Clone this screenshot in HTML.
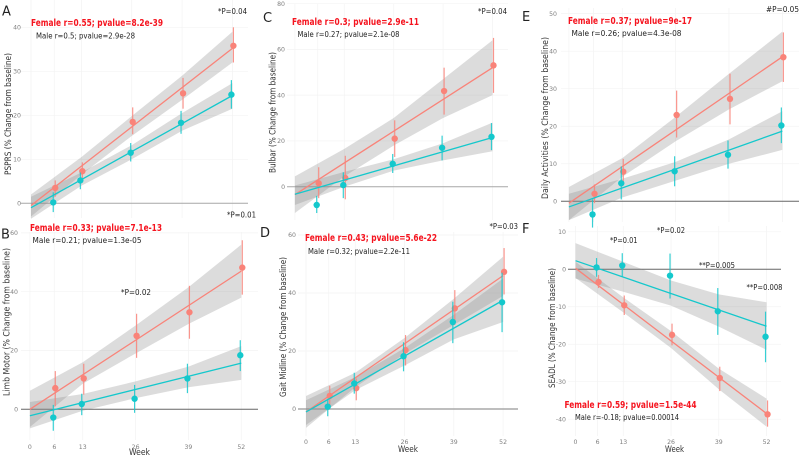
<!DOCTYPE html>
<html lang="en">
<head>
<meta charset="utf-8">
<title>Change from baseline by week and sex</title>
<style>
html,body{margin:0;padding:0;background:#fff;width:800px;height:458px;overflow:hidden}
svg{display:block;filter:blur(.3px)}
text{font-family:"DejaVu Sans","Liberation Sans",sans-serif}
.tick{font-size:6.2px;fill:#808080}
.ytitle{font-size:8.5px;fill:#333}
.week{font-size:8.5px;fill:#333}
.female{font-size:9.5px;font-weight:bold;fill:#f5141f}
.male{font-size:8px;fill:#222}
.pv{font-size:8px;fill:#222}
.letter{font-size:13px;fill:#222}
</style>
</head>
<body>
<svg id="chart" xmlns="http://www.w3.org/2000/svg" width="800" height="458" viewBox="0 0 800 458">
  <rect width="800" height="458" fill="#fff"/>
  <g id="marks"></g>

  <text class="letter" x="2" y="15.5">A</text>
  <text class="letter" x="1" y="238.5">B</text>
  <text class="letter" x="263" y="22">C</text>
  <text class="letter" x="260" y="237">D</text>
  <text class="letter" x="522" y="21">E</text>
  <text class="letter" x="522" y="233">F</text>

  <text class="female" x="31" y="26" textLength="132" lengthAdjust="spacingAndGlyphs">Female r=0.55; pvalue=8.2e-39</text>
  <text class="male" x="36" y="38.5" textLength="99" lengthAdjust="spacingAndGlyphs">Male r=0.5; pvalue=2.9e-28</text>
  <text class="female" x="30" y="231" textLength="132" lengthAdjust="spacingAndGlyphs">Female r=0.33; pvalue=7.1e-13</text>
  <text class="male" x="32.5" y="243" textLength="109" lengthAdjust="spacingAndGlyphs">Male r=0.21; pvalue=1.3e-05</text>
  <text class="female" x="292" y="25" textLength="127" lengthAdjust="spacingAndGlyphs">Female r=0.3; pvalue=2.9e-11</text>
  <text class="male" x="297.5" y="37" textLength="102" lengthAdjust="spacingAndGlyphs">Male r=0.27; pvalue=2.1e-08</text>
  <text class="female" x="305" y="241" textLength="132" lengthAdjust="spacingAndGlyphs">Female r=0.43; pvalue=5.6e-22</text>
  <text class="male" x="308" y="254" textLength="102" lengthAdjust="spacingAndGlyphs">Male r=0.32; pvalue=2.2e-11</text>
  <text class="female" x="568" y="24" textLength="124" lengthAdjust="spacingAndGlyphs">Female r=0.37; pvalue=9e-17</text>
  <text class="male" x="571.5" y="36" textLength="110" lengthAdjust="spacingAndGlyphs">Male r=0.26; pvalue=4.3e-08</text>
  <text class="female" x="564.5" y="408" textLength="132" lengthAdjust="spacingAndGlyphs">Female r=0.59; pvalue=1.5e-44</text>
  <text class="male" x="575" y="420" textLength="104" lengthAdjust="spacingAndGlyphs">Male r=-0.18; pvalue=0.00014</text>

  <text class="pv" x="218" y="14" textLength="29" lengthAdjust="spacingAndGlyphs">*P=0.04</text>
  <text class="pv" x="227" y="217.5" textLength="29" lengthAdjust="spacingAndGlyphs">*P=0.01</text>
  <text class="pv" x="121" y="295" textLength="30" lengthAdjust="spacingAndGlyphs">*P=0.02</text>
  <text class="pv" x="478" y="14" textLength="29" lengthAdjust="spacingAndGlyphs">*P=0.04</text>
  <text class="pv" x="489.5" y="229" textLength="28.5" lengthAdjust="spacingAndGlyphs">*P=0.03</text>
  <text class="pv" x="766" y="12" textLength="33" lengthAdjust="spacingAndGlyphs">#P=0.05</text>
  <text class="pv" x="610" y="243" textLength="27.5" lengthAdjust="spacingAndGlyphs">*P=0.01</text>
  <text class="pv" x="657" y="233" textLength="28" lengthAdjust="spacingAndGlyphs">*P=0.02</text>
  <text class="pv" x="699" y="268" textLength="36" lengthAdjust="spacingAndGlyphs">**P=0.005</text>
  <text class="pv" x="746.5" y="290" textLength="36" lengthAdjust="spacingAndGlyphs">**P=0.008</text>

  <text class="ytitle" transform="translate(11,175) rotate(-90)" textLength="122" lengthAdjust="spacingAndGlyphs">PSPRS (% Change from baseline)</text>
  <text class="ytitle" transform="translate(9.5,396) rotate(-90)" textLength="148" lengthAdjust="spacingAndGlyphs">Limb Motor (% Change from baseline)</text>
  <text class="ytitle" transform="translate(275.5,173) rotate(-90)" textLength="121" lengthAdjust="spacingAndGlyphs">Bulbar (% Change from baseline)</text>
  <text class="ytitle" transform="translate(286,397) rotate(-90)" textLength="140" lengthAdjust="spacingAndGlyphs">Gait Midline (% Change from baseline)</text>
  <text class="ytitle" transform="translate(548,199) rotate(-90)" textLength="162" lengthAdjust="spacingAndGlyphs">Daily Activities (% Change from baseline)</text>
  <text class="ytitle" transform="translate(555,388) rotate(-90)" textLength="120" lengthAdjust="spacingAndGlyphs">SEADL (% Change from baseline)</text>

  <text class="week" x="129" y="455" textLength="21" lengthAdjust="spacingAndGlyphs">Week</text>
  <text class="week" x="398" y="452" textLength="20" lengthAdjust="spacingAndGlyphs">Week</text>
  <text class="week" x="665" y="452" textLength="19" lengthAdjust="spacingAndGlyphs">Week</text>
</svg>
<script>
const pointWeeks = [6, 13, 26, 39, 52];
const ribbonWeeks = [0, 13, 26, 39, 52];
const lineWeeks = [0, 52];
const xTickLabels = [0, 6, 13, 26, 39, 52];

const aYTicks = [0, 10, 20, 30, 40];
const aFemaleMeans = [3.5, 7.3, 18.5, 25, 35.8];
const aFemaleLow = [1.5, 5.2, 15.7, 21.5, 32];
const aFemaleHigh = [5.2, 9.3, 21.8, 28.5, 40];
const aFemaleLine = [-0.5, 35.2];
const aFemaleRibbonHigh = [2, 10.5, 19.8, 29, 39];
const aFemaleRibbonLow = [-3, 6.5, 15.3, 23.5, 32];
const aMaleMeans = [0.2, 5.2, 11.5, 18.3, 24.7];
const aMaleLow = [-2, 3.2, 9.5, 15.8, 21.5];
const aMaleHigh = [2.5, 7, 13.7, 21, 28];
const aMaleLine = [-1, 24.5];
const aMaleRibbonHigh = [1.5, 7, 13.2, 20.5, 27.3];
const aMaleRibbonLow = [-3.5, 4, 10, 16.5, 21.5];

const bYTicks = [0, 20, 40, 60];
const bFemaleMeans = [7.2, 10.5, 25, 33, 48.2];
const bFemaleLow = [1, 5, 17.5, 24, 39];
const bFemaleHigh = [13, 15.5, 32.5, 42, 57.5];
const bFemaleLine = [0, 47];
const bFemaleRibbonHigh = [6.3, 16, 28.5, 41.5, 56];
const bFemaleRibbonLow = [-6, 8.7, 19, 29, 38];
const bMaleMeans = [-2.8, 1.8, 3.6, 10.5, 18.4];
const bMaleLow = [-7.3, -2, -1.2, 5.5, 13];
const bMaleHigh = [1.5, 5.3, 8.3, 15.5, 23.5];
const bMaleLine = [-2.2, 15.7];
const bMaleRibbonHigh = [2.5, 5.2, 9.5, 14.5, 21.5];
const bMaleRibbonLow = [-6.5, -0.5, 3.8, 7.5, 10];

const cYTicks = [0, 20, 40, 60, 80];
const cFemaleMeans = [1.5, 3.8, 21, 41.8, 53];
const cFemaleLow = [-5, -5.5, 13, 31.5, 41];
const cFemaleHigh = [8.5, 13.5, 29, 52, 65];
const cFemaleLine = [-3.5, 52];
const cFemaleRibbonHigh = [4.5, 16.5, 30, 47, 64];
const cFemaleRibbonLow = [-11.5, 4.5, 18, 30, 40];
const cMaleMeans = [-8, 0.7, 10, 17, 21.8];
const cMaleLow = [-11.5, -5, 6, 11.5, 16];
const cMaleHigh = [-4, 6.3, 14.3, 22.3, 27.8];
const cMaleLine = [-3.3, 21.5];
const cMaleRibbonHigh = [0.5, 6.5, 12, 19, 28];
const cMaleRibbonLow = [-8, 0, 7, 11.5, 15.5];

const dYTicks = [0, 20, 40, 60];
const dFemaleMeans = [4.5, 7.2, 20.3, 34.7, 47.3];
const dFemaleLow = [1, 3, 15, 29, 39.5];
const dFemaleHigh = [8, 10.5, 25.5, 41, 55.5];
const dFemaleLine = [-1, 46];
const dFemaleRibbonHigh = [4.5, 12.5, 24.5, 38, 52.5];
const dFemaleRibbonLow = [-6.5, 7.5, 19, 29, 39];
const dMaleMeans = [0.8, 8.8, 18.2, 30, 36.8];
const dMaleLow = [-2.5, 5.3, 13, 22.7, 26.5];
const dMaleHigh = [3.5, 12.5, 23, 37, 47];
const dMaleLine = [-1, 37.5];
const dMaleRibbonHigh = [3, 11, 21, 32.5, 45];
const dMaleRibbonLow = [-5.5, 6.5, 15, 24, 30];

const eYTicks = [0, 10, 20, 30, 40, 50];
const eFemaleMeans = [2, 7.9, 23, 27.3, 38.4];
const eFemaleLow = [-0.5, 4.5, 17, 20.5, 31.8];
const eFemaleHigh = [4.5, 11.3, 29.5, 34, 45];
const eFemaleLine = [-0.5, 38.5];
const eFemaleRibbonHigh = [3.8, 11.5, 22.5, 34, 45.2];
const eFemaleRibbonLow = [-5, 6.5, 16, 24.5, 32];
const eMaleMeans = [-3.5, 4.8, 8, 12.4, 20.2];
const eMaleLow = [-7, 0.5, 4, 8.7, 15.5];
const eMaleHigh = [0.5, 9.3, 12, 16.2, 25];
const eMaleLine = [-1.5, 18.7];
const eMaleRibbonHigh = [2, 6, 10.5, 16.5, 24];
const eMaleRibbonLow = [-5, 1, 5.5, 10, 13.7];

const fYTicks = [10, 0, -10, -20, -30, -40];
const fFemaleMeans = [-3.4, -9.6, -17.5, -29, -38.7];
const fFemaleLow = [-5, -12.2, -20.3, -32.5, -42];
const fFemaleHigh = [-1.5, -7, -14.5, -26, -35];
const fFemaleLine = [0.3, -38.5];
const fFemaleRibbonHigh = [2, -7.5, -16.5, -26.5, -34.5];
const fFemaleRibbonLow = [-2.3, -11.5, -21, -32, -42];
const fMaleMeans = [0.5, 1, -1.7, -11.2, -18];
const fMaleLow = [-2, -2, -7.8, -17.5, -24.8];
const fMaleHigh = [3, 4.3, 4.2, -5, -11.3];
const fMaleLine = [2.3, -15.2];
const fMaleRibbonHigh = [7, 2, -3, -6.7, -8.8];
const fMaleRibbonLow = [-2.5, -6, -9.7, -15.3, -21.5];

const FEMALE_COLOR = '#f98379';
const MALE_COLOR = '#14c8cc';
const NS = 'http://www.w3.org/2000/svg';
const root = document.getElementById('marks');

function make(tag, attrs, parent) {
  const el = document.createElementNS(NS, tag);
  for (const k in attrs) el.setAttribute(k, attrs[k]);
  parent.appendChild(el);
  return el;
}

const panels = [
  {id:'a', x0:31, xs:3.873, y0:203.3, ys:4.4, zl:20, zr:248, zc:'#a8a8a8', zw:1, tr:21, tickY:null, top:0, bot:218, yTicks:aYTicks,
   f:{m:aFemaleMeans,lo:aFemaleLow,hi:aFemaleHigh,l:aFemaleLine,rh:aFemaleRibbonHigh,rl:aFemaleRibbonLow},
   g:{m:aMaleMeans,lo:aMaleLow,hi:aMaleHigh,l:aMaleLine,rh:aMaleRibbonHigh,rl:aMaleRibbonLow}},
  {id:'b', x0:29.9, xs:4.065, y0:409.3, ys:2.94, zl:21, zr:258, zc:'#666', zw:1, tr:18, tickY:449, top:232, bot:440, yTicks:bYTicks,
   f:{m:bFemaleMeans,lo:bFemaleLow,hi:bFemaleHigh,l:bFemaleLine,rh:bFemaleRibbonHigh,rl:bFemaleRibbonLow},
   g:{m:bMaleMeans,lo:bMaleLow,hi:bMaleHigh,l:bMaleLine,rh:bMaleRibbonHigh,rl:bMaleRibbonLow}},
  {id:'c', x0:294.9, xs:3.8, y0:186.7, ys:2.289, zl:287, zr:508, zc:'#a8a8a8', zw:1, tr:285, tickY:null, top:4, bot:220, yTicks:cYTicks,
   f:{m:cFemaleMeans,lo:cFemaleLow,hi:cFemaleHigh,l:cFemaleLine,rh:cFemaleRibbonHigh,rl:cFemaleRibbonLow},
   g:{m:cMaleMeans,lo:cMaleLow,hi:cMaleHigh,l:cMaleLine,rh:cMaleRibbonHigh,rl:cMaleRibbonLow}},
  {id:'d', x0:306, xs:3.79, y0:409, ys:2.9, zl:298, zr:518, zc:'#a8a8a8', zw:1.5, tr:296, tickY:444, top:232, bot:436, yTicks:dYTicks,
   f:{m:dFemaleMeans,lo:dFemaleLow,hi:dFemaleHigh,l:dFemaleLine,rh:dFemaleRibbonHigh,rl:dFemaleRibbonLow},
   g:{m:dMaleMeans,lo:dMaleLow,hi:dMaleHigh,l:dMaleLine,rh:dMaleRibbonHigh,rl:dMaleRibbonLow}},
  {id:'e', x0:568.9, xs:4.105, y0:201.3, ys:3.753, zl:561, zr:799, zc:'#666', zw:1, tr:557, tickY:null, top:8, bot:222, yTicks:eYTicks,
   f:{m:eFemaleMeans,lo:eFemaleLow,hi:eFemaleHigh,l:eFemaleLine,rh:eFemaleRibbonHigh,rl:eFemaleRibbonLow},
   g:{m:eMaleMeans,lo:eMaleLow,hi:eMaleHigh,l:eMaleLine,rh:eMaleRibbonHigh,rl:eMaleRibbonLow}},
  {id:'f', x0:575.5, xs:3.674, y0:269.3, ys:3.747, zl:568, zr:781, zc:'#666', zw:1, tr:566, tickY:444, top:226, bot:436, yTicks:fYTicks,
   f:{m:fFemaleMeans,lo:fFemaleLow,hi:fFemaleHigh,l:fFemaleLine,rh:fFemaleRibbonHigh,rl:fFemaleRibbonLow},
   g:{m:fMaleMeans,lo:fMaleLow,hi:fMaleHigh,l:fMaleLine,rh:fMaleRibbonHigh,rl:fMaleRibbonLow}}
];

function drawSeriesRibbon(s, g, X, Y) {
  const up = ribbonWeeks.map((w, i) => X(w) + ',' + Y(s.rh[i]));
  const dn = ribbonWeeks.map((w, i) => X(w) + ',' + Y(s.rl[i])).reverse();
  const el = make('polygon', {points: up.concat(dn).join(' '), fill: '#8c8c8c', 'fill-opacity': 0.3}, g);
  
  
}

function drawSeriesMarks(s, color, dodge, g, X, Y) {
  const line = make('line', {x1: X(lineWeeks[0]), y1: Y(s.l[0]), x2: X(lineWeeks[1]), y2: Y(s.l[1]), stroke: color, 'stroke-width': 1.3}, g);
  
  
  pointWeeks.forEach((w, i) => {
    const bar = make('line', {x1: X(w) + dodge, x2: X(w) + dodge, y1: Y(s.lo[i]), y2: Y(s.hi[i]), stroke: color, 'stroke-width': 1.2, 'stroke-opacity': 0.85}, g);
    
    
    const dot = make('circle', {cx: X(w) + dodge, cy: Y(s.m[i]), r: 3.2, fill: color}, g);
    
    
  });
}

panels.forEach(p => {
  const X = w => p.x0 + p.xs * w;
  const Y = v => p.y0 - p.ys * v;
  const g = make('g', {}, root);
  
  

  xTickLabels.forEach(w => {
    const gl = make('line', {x1: X(w), x2: X(w), y1: p.top, y2: p.bot, stroke: '#f3f3f3', 'stroke-width': 0.7}, g);
    
    
    if (p.tickY !== null) {
      const t = make('text', {x: X(w), y: p.tickY, 'text-anchor': 'middle', class: 'tick'}, g);
      
      
      t.textContent = w;
    }
  });
  p.yTicks.forEach(v => {
    const gl = make('line', {x1: p.zl, x2: p.zr, y1: Y(v), y2: Y(v), stroke: '#f3f3f3', 'stroke-width': 0.7}, g);
    
    
    const t = make('text', {x: p.tr, y: Y(v) + 2.2, 'text-anchor': 'end', class: 'tick'}, g);
    
    
    t.textContent = v;
  });

  const zero = make('line', {x1: p.zl, x2: p.zr, y1: Y(0), y2: Y(0), stroke: p.zc, 'stroke-width': p.zw}, g);
  
  

  drawSeriesRibbon(p.g, g, X, Y);
  drawSeriesRibbon(p.f, g, X, Y);
  drawSeriesMarks(p.f, FEMALE_COLOR, 1, g, X, Y);
  drawSeriesMarks(p.g, MALE_COLOR, -1, g, X, Y);
});
</script>
</body>
</html>
